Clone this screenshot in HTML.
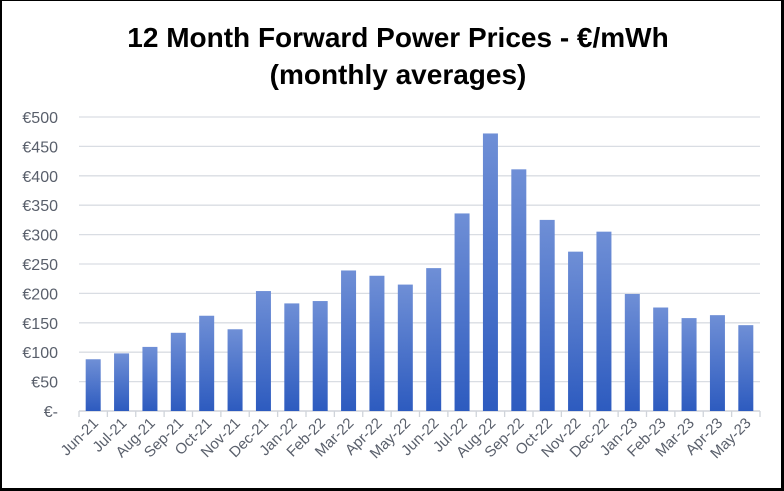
<!DOCTYPE html>
<html><head><meta charset="utf-8"><style>
html,body{margin:0;padding:0;background:#fff}
#wrap{position:relative;width:784px;height:491px;box-sizing:border-box;border-top:1px solid #000;border-left:2px solid #000;border-right:3px solid #000;border-bottom:3px solid #000;background:#fff;overflow:hidden}
svg{position:absolute;left:-2px;top:-1px}
</style></head><body>
<div id="wrap">
<svg id="chart" width="784" height="491" xmlns="http://www.w3.org/2000/svg">
<defs><linearGradient id="g" x1="0" y1="0" x2="0" y2="1"><stop offset="0" stop-color="#6f8fd6"/><stop offset="1" stop-color="#2d5bbf"/></linearGradient></defs>
<text x="398" y="47" text-anchor="middle" font-family="Liberation Sans, sans-serif" font-weight="bold" font-size="28" fill="#000">12 Month Forward Power Prices - €/mWh</text>
<text x="398" y="84" text-anchor="middle" font-family="Liberation Sans, sans-serif" font-weight="bold" font-size="28" fill="#000">(monthly averages)</text>
</svg>
</div>
<script>
const categories=["Jun-21","Jul-21","Aug-21","Sep-21","Oct-21","Nov-21","Dec-21","Jan-22","Feb-22","Mar-22","Apr-22","May-22","Jun-22","Jul-22","Aug-22","Sep-22","Oct-22","Nov-22","Dec-22","Jan-23","Feb-23","Mar-23","Apr-23","May-23"];
const prices=[88,98,109,133,162,139,204,183,187,239,230,215,243,336,472,411,325,271,305,199,176,158,163,146];
const yTicks=[0,50,100,150,200,250,300,350,400,450,500];
const yTickLabels=["€-","€50","€100","€150","€200","€250","€300","€350","€400","€450","€500"];
const NS="http://www.w3.org/2000/svg";
const svg=document.getElementById('chart');
const L=79,R=760,T=117,B=411,YMAX=500;
const y=v=>B-(v/YMAX)*(B-T);
const band=(R-L)/categories.length;
const x=i=>L+band*(i+0.5);
function mk(tag,attrs){const e=document.createElementNS(NS,tag);for(const k in attrs)e.setAttribute(k,attrs[k]);svg.appendChild(e);return e;}
yTicks.forEach((t,i)=>{
  if(t>0){const g=mk('line',{x1:L,x2:R,y1:y(t),y2:y(t),stroke:'#d9dde3','stroke-width':1.3});
  
  }
  const tx=mk('text',{x:58,y:y(t)+6,'text-anchor':'end','font-family':'Liberation Sans, sans-serif','font-size':16,fill:'#595f6b'});
  tx.textContent=yTickLabels[i];
  
  
});
const ax=mk('line',{x1:L,x2:R,y1:B,y2:B,stroke:'#d0d4da','stroke-width':1.5});


for(let i=0;i<=categories.length;i++){
  const tk=mk('line',{x1:L+band*i,x2:L+band*i,y1:B,y2:B+6,stroke:'#d0d4da','stroke-width':1.3});
  
  
}
const bw=15;
prices.forEach((v,i)=>{
  const r=mk('rect',{x:x(i)-bw/2,y:y(v),width:bw,height:B-y(v),fill:'url(#g)'});
  
  
});
categories.forEach((c,i)=>{
  const cx=x(i)+6,cy=B+13;
  const t=mk('text',{x:cx,y:cy,'text-anchor':'end','font-family':'Liberation Sans, sans-serif','font-size':15,fill:'#595f6b',transform:`rotate(-45 ${cx} ${cy})`});
  t.textContent=c;
  
  
});
</script>
</body></html>
